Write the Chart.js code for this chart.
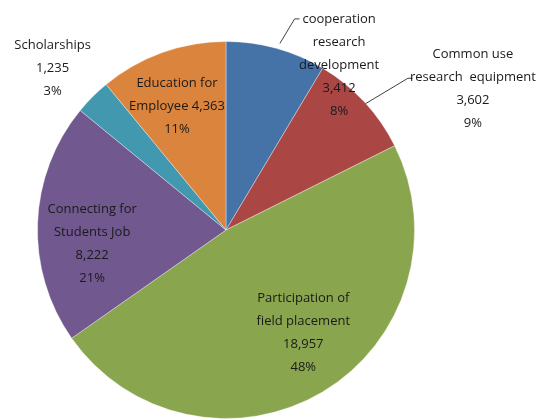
<!DOCTYPE html>
<html>
<head>
<meta charset="utf-8">
<script src="https://cdn.jsdelivr.net/npm/chart.js@4"></script>
<style>
html,body{margin:0;padding:0;background:#fff;}
#wrap{width:542px;height:420px;}
</style>
</head>
<body>
<div id="wrap"><canvas id="c" width="542" height="420"></canvas></div>
<script>
const categories = ["cooperation research development", "Common use research equipment", "Participation of field placement", "Connecting for Students Job", "Scholarships", "Education for Employee"];
const values = [3412, 3602, 18957, 8222, 1235, 4363];
const percentLabels = ["8%", "9%", "48%", "21%", "3%", "11%"];
const colors = ["#4572A7", "#AA4643", "#89A54E", "#71588F", "#4198AF", "#DB843D"];
// label text lines per slice
const labelLines = [
  ["cooperation", "research", "development", "3,412", "8%"],
  ["Common use", "research  equipment", "3,602", "9%"],
  ["Participation of", "field placement", "18,957", "48%"],
  ["Connecting for", "Students Job", "8,222", "21%"],
  ["Scholarships", "1,235", "3%"],
  ["Education for", "Employee 4,363", "11%"]
];
// label anchor (center of first line) relative to pie center, in units of radius
const labelAnchors = [
  [0.60, -1.12], [1.31, -0.93], [0.41, 0.36], [-0.71, -0.11], [-0.92, -0.98], [-0.26, -0.78]
];
const lineGap = 23;

const labelPlugin = {
  id: 'labels',
  afterDatasetsDraw(chart) {
    const ctx = chart.ctx;
    const arc = chart.getDatasetMeta(0).data[0];
    const cx = arc.x, cy = arc.y, r = arc.outerRadius;
    ctx.save();
    // leader lines
    ctx.strokeStyle = '#404040';
    ctx.lineWidth = 1;
    ctx.beginPath();
    ctx.moveTo(cx + r*0.39, cy - r*1.12); ctx.lineTo(cx + r*0.364, cy - r*1.12);
    ctx.lineTo(cx + r*0.286, cy - r*0.99);
    ctx.moveTo(cx + r*0.99, cy - r*0.805); ctx.lineTo(cx + r*0.965, cy - r*0.805);
    ctx.lineTo(cx + r*0.74, cy - r*0.67);
    ctx.stroke();
    ctx.fillStyle = '#1a1a1a';
    ctx.font = '13px "Open Sans", "Noto Sans", sans-serif';
    ctx.textAlign = 'center';
    ctx.textBaseline = 'middle';
    labelLines.forEach((lines, i) => {
      const ax = cx + labelAnchors[i][0]*r, ay = cy + labelAnchors[i][1]*r;
      lines.forEach((t, j) => ctx.fillText(t, ax, ay + j*lineGap));
    });
    ctx.restore();
  }
};

new Chart(document.getElementById('c'), {
  type: 'pie',
  data: {
    labels: categories,
    datasets: [{
      data: values,
      backgroundColor: colors,
      borderColor: 'rgba(255,255,255,0.35)',
      borderWidth: 1
    }]
  },
  options: {
    responsive: false,
    animation: false,
    layout: { padding: { top: 41, bottom: 1, left: 37, right: 127 } },
    plugins: { legend: { display: false }, tooltip: { enabled: false } }
  },
  plugins: [labelPlugin]
});
</script>
</body>
</html>
